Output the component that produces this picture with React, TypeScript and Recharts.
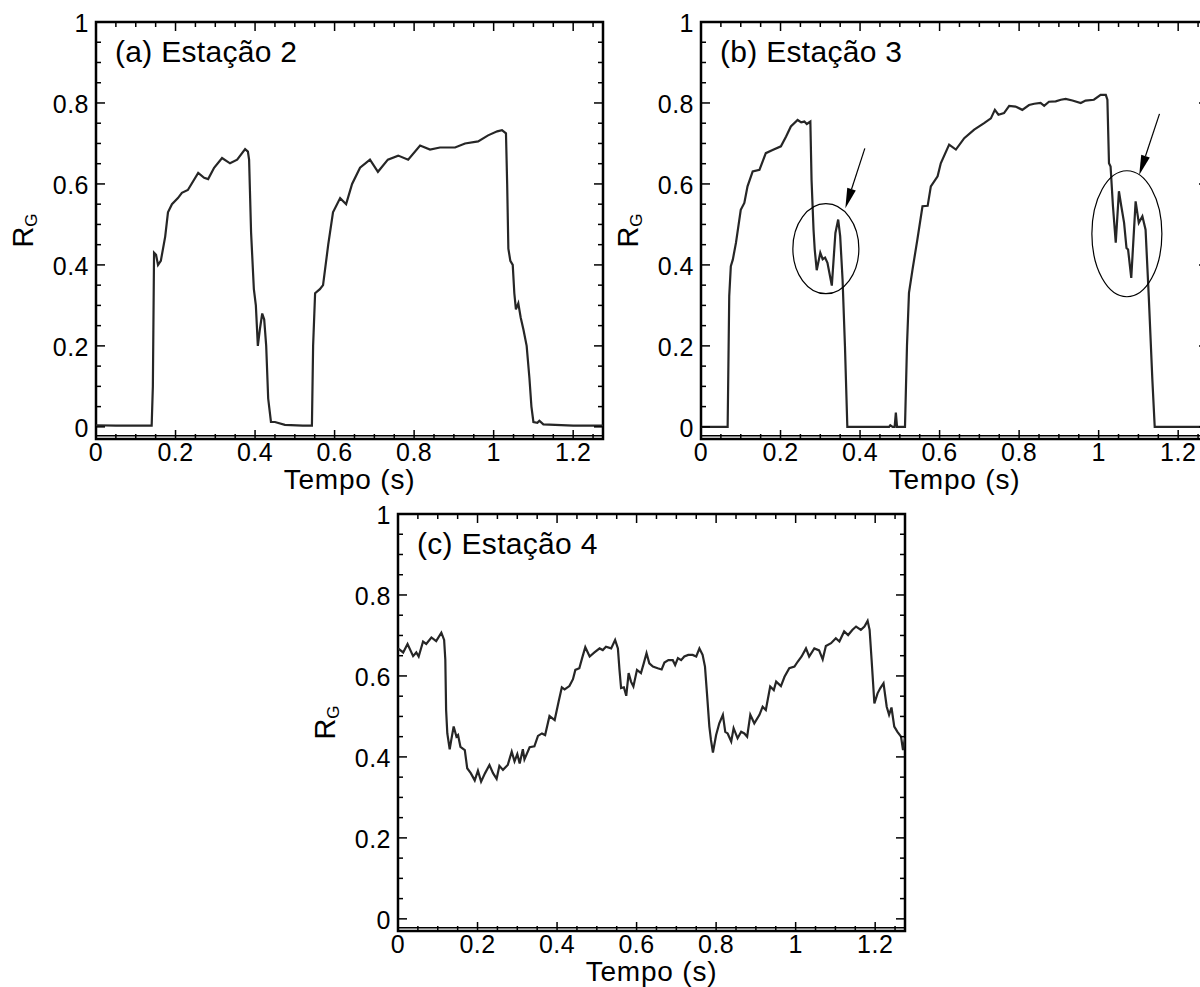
import React from "react";
import {
  LineChart,
  Line,
  XAxis,
  YAxis,
  ReferenceArea,
  ReferenceLine,
  ReferenceDot
} from "recharts";

// Estação 2
const tempoA = [
  0, 0.05, 0.1, 0.14, 0.143, 0.146, 0.151, 0.156, 0.163, 0.174, 0.181, 0.191,
  0.206, 0.216, 0.231, 0.257, 0.272, 0.282, 0.297, 0.317, 0.337, 0.355, 0.375,
  0.382, 0.385, 0.39, 0.397, 0.402, 0.407, 0.412, 0.418, 0.423, 0.428, 0.433,
  0.44, 0.45, 0.475, 0.52, 0.543, 0.546, 0.551, 0.563, 0.571, 0.584, 0.596,
  0.614, 0.629, 0.644, 0.664, 0.689, 0.709, 0.734, 0.76, 0.785, 0.815, 0.84,
  0.865, 0.903, 0.928, 0.961, 0.986, 1.009, 1.021, 1.031, 1.034, 1.037, 1.042,
  1.048, 1.052, 1.056, 1.062, 1.068, 1.075, 1.083, 1.09, 1.095, 1.1, 1.11,
  1.115, 1.125, 1.2, 1.275
];
const rgA = [
  0.004, 0.003, 0.003, 0.003, 0.1, 0.43, 0.425, 0.4, 0.41, 0.47, 0.53, 0.55,
  0.565, 0.578, 0.585, 0.627, 0.615, 0.612, 0.64, 0.664, 0.651, 0.66, 0.686,
  0.68, 0.66, 0.48, 0.34, 0.3, 0.2, 0.24, 0.28, 0.265, 0.2, 0.07,
  0.012, 0.012, 0.005, 0.003, 0.003, 0.2, 0.33, 0.34, 0.35, 0.45, 0.53,
  0.565, 0.55, 0.6, 0.64, 0.66, 0.63, 0.66, 0.67, 0.66, 0.695, 0.685,
  0.69, 0.69, 0.7, 0.705, 0.72, 0.73, 0.733, 0.725, 0.6, 0.44, 0.41,
  0.4, 0.33, 0.29, 0.305, 0.27, 0.24, 0.2, 0.12, 0.05, 0.012, 0.01,
  0.015, 0.006, 0.003, 0.003
];

// Estação 3
const tempoB = [
  0, 0.065, 0.067, 0.071, 0.075, 0.08, 0.088, 0.1, 0.109, 0.117, 0.13, 0.147,
  0.163, 0.18, 0.201, 0.214, 0.226, 0.243, 0.252, 0.26, 0.266, 0.275, 0.278,
  0.283, 0.286, 0.291, 0.3, 0.306, 0.312, 0.318, 0.329, 0.338, 0.345, 0.35,
  0.356, 0.362, 0.368, 0.473, 0.476, 0.482, 0.487, 0.49, 0.493, 0.513, 0.518,
  0.523, 0.532, 0.544, 0.557, 0.57, 0.578, 0.595, 0.603, 0.624, 0.641, 0.662,
  0.687, 0.712, 0.729, 0.739, 0.748, 0.762, 0.775, 0.791, 0.808, 0.825, 0.838,
  0.854, 0.863, 0.875, 0.892, 0.905, 0.917, 0.934, 0.955, 0.967, 0.988, 1.005,
  1.018, 1.022, 1.026, 1.03, 1.036, 1.043, 1.051, 1.057, 1.064, 1.07, 1.074,
  1.082, 1.093, 1.101, 1.11, 1.118, 1.126, 1.135, 1.141, 1.275
];
const rgB = [
  0, 0, 0, 0.323, 0.397, 0.413, 0.455, 0.536, 0.553, 0.594, 0.631, 0.635,
  0.676, 0.684, 0.693, 0.717, 0.742, 0.758, 0.752, 0.754, 0.748, 0.754, 0.61,
  0.487, 0.438, 0.387, 0.43, 0.414, 0.418, 0.405, 0.349, 0.479, 0.512, 0.471,
  0.364, 0.2, 0, 0, 0.004, 0, 0, 0.035, 0, 0, 0.2,
  0.331, 0.389, 0.462, 0.545, 0.546, 0.594, 0.619, 0.651, 0.697, 0.685, 0.713,
  0.734, 0.75, 0.762, 0.783, 0.771, 0.775, 0.793, 0.791, 0.783, 0.795, 0.798,
  0.8, 0.793, 0.803, 0.804, 0.808, 0.81, 0.806, 0.8, 0.806, 0.808, 0.82,
  0.82, 0.808, 0.651, 0.643, 0.545, 0.455, 0.582, 0.545, 0.504, 0.442, 0.438,
  0.368, 0.557, 0.504, 0.52, 0.487, 0.323, 0.118, 0, 0
];

// Estação 4
const tempoC = [
  0, 0.013, 0.024, 0.038, 0.046, 0.052, 0.063, 0.071, 0.084, 0.096, 0.109,
  0.116, 0.119, 0.121, 0.124, 0.13, 0.134, 0.14, 0.147, 0.151, 0.157, 0.168,
  0.174, 0.183, 0.193, 0.201, 0.209, 0.219, 0.23, 0.239, 0.248, 0.255, 0.264,
  0.276, 0.286, 0.293, 0.3, 0.306, 0.314, 0.318, 0.331, 0.343, 0.352, 0.362,
  0.37, 0.381, 0.394, 0.404, 0.412, 0.419, 0.431, 0.44, 0.446, 0.456, 0.463,
  0.471, 0.482, 0.494, 0.507, 0.515, 0.523, 0.536, 0.546, 0.553, 0.557, 0.561,
  0.568, 0.574, 0.58, 0.586, 0.592, 0.601, 0.611, 0.618, 0.625, 0.632, 0.641,
  0.653, 0.663, 0.67, 0.68, 0.691, 0.697, 0.704, 0.712, 0.72, 0.73, 0.741,
  0.75, 0.758, 0.766, 0.772, 0.777, 0.783, 0.787, 0.792, 0.8, 0.808, 0.817,
  0.823, 0.829, 0.838, 0.844, 0.854, 0.863, 0.871, 0.878, 0.886, 0.896, 0.909,
  0.917, 0.925, 0.936, 0.945, 0.951, 0.963, 0.972, 0.984, 0.997, 1.005, 1.015,
  1.026, 1.034, 1.047, 1.059, 1.068, 1.076, 1.089, 1.101, 1.11, 1.122, 1.132,
  1.143, 1.152, 1.164, 1.173, 1.181, 1.186, 1.191, 1.198, 1.206, 1.213, 1.221,
  1.229, 1.235, 1.241, 1.248, 1.256, 1.265, 1.27, 1.275
];
const rgC = [
  0.668, 0.658, 0.679, 0.649, 0.658, 0.648, 0.685, 0.679, 0.695, 0.686, 0.707,
  0.689, 0.64, 0.516, 0.458, 0.419, 0.442, 0.475, 0.45, 0.454, 0.425, 0.417,
  0.372, 0.36, 0.342, 0.366, 0.339, 0.36, 0.38, 0.36, 0.346, 0.378, 0.368,
  0.38, 0.413, 0.389, 0.407, 0.384, 0.419, 0.394, 0.424, 0.426, 0.452, 0.458,
  0.454, 0.501, 0.491, 0.537, 0.572, 0.567, 0.575, 0.592, 0.615, 0.619, 0.644,
  0.671, 0.648, 0.658, 0.668, 0.664, 0.672, 0.668, 0.689, 0.668, 0.615, 0.57,
  0.572, 0.551, 0.607, 0.586, 0.574, 0.615, 0.607, 0.631, 0.656, 0.631, 0.623,
  0.619, 0.616, 0.633, 0.639, 0.639, 0.627, 0.644, 0.639, 0.648, 0.652, 0.652,
  0.648, 0.668, 0.652, 0.623, 0.557, 0.475, 0.442, 0.411, 0.454, 0.483, 0.504,
  0.462, 0.458, 0.438, 0.471, 0.446, 0.462, 0.458, 0.45, 0.504, 0.483, 0.504,
  0.524, 0.516, 0.574, 0.565, 0.586, 0.575, 0.598, 0.619, 0.623, 0.635, 0.648,
  0.668, 0.648, 0.668, 0.663, 0.641, 0.674, 0.681, 0.693, 0.685, 0.71, 0.701,
  0.714, 0.722, 0.714, 0.722, 0.736, 0.714, 0.64, 0.532, 0.557, 0.57, 0.582,
  0.524, 0.504, 0.522, 0.475, 0.462, 0.45, 0.417, 0.446
];

const xTicks = [
  0, 0.05, 0.1, 0.15, 0.2, 0.25, 0.3, 0.35, 0.4, 0.45, 0.5, 0.55, 0.6, 0.65,
  0.7, 0.75, 0.8, 0.85, 0.9, 0.95, 1, 1.05, 1.1, 1.15, 1.2, 1.25
];
const xMajor = [0, 0.2, 0.4, 0.6, 0.8, 1, 1.2];
const yTicks = [
  0, 0.05, 0.1, 0.15, 0.2, 0.25, 0.3, 0.35, 0.4, 0.45, 0.5, 0.55, 0.6, 0.65,
  0.7, 0.75, 0.8, 0.85, 0.9, 0.95, 1
];
const yMajor = [0, 0.2, 0.4, 0.6, 0.8, 1];

const X_MAX = 1.275;
const Y_MIN = -0.03;
const PLOT_W = 507;
const PLOT_H = 417;
const AXIS_W = 96;
const AXIS_H = 70;
const TOP = 22;
const RIGHT = 10;
const FONT = '"Liberation Sans", Arial, Helvetica, sans-serif';

const toRows = (t: number[], v: number[]) => t.map((x, i) => ({ t: x, rg: v[i] }));

const isMajor = (list: number[], v: number) => list.some((m) => Math.abs(m - v) < 1e-6);

function XTick(props: any) {
  const { x, y, payload } = props;
  const major = isMajor(xMajor, payload.value);
  const len = major ? 9 : 5;
  return (
    <g>
      <line x1={x} y1={y} x2={x} y2={y - len} stroke="#000" strokeWidth={1.5} />
      <line x1={x} y1={y - PLOT_H} x2={x} y2={y - PLOT_H + len} stroke="#000" strokeWidth={1.5} />
      {major && (
        <text x={x} y={y + 22} textAnchor="middle" fontSize={25} letterSpacing={0.5} fontFamily={FONT} fill="#000">
          {String(payload.value)}
        </text>
      )}
    </g>
  );
}

function YTick(props: any) {
  const { x, y, payload } = props;
  const major = isMajor(yMajor, payload.value);
  const len = major ? 9 : 5;
  return (
    <g>
      <line x1={x} y1={y} x2={x + len} y2={y} stroke="#000" strokeWidth={1.5} />
      <line x1={x + PLOT_W} y1={y} x2={x + PLOT_W - len} y2={y} stroke="#000" strokeWidth={1.5} />
      {major && (
        <text x={x - 7} y={y + 10} textAnchor="end" fontSize={25} letterSpacing={0.5} fontFamily={FONT} fill="#000">
          {String(payload.value)}
        </text>
      )}
    </g>
  );
}

function XLabel(props: any) {
  const vb = props.viewBox;
  return (
    <text x={vb.x + vb.width / 2} y={vb.y + 50} textAnchor="middle" fontSize={28} letterSpacing={0.8} fontFamily={FONT} fill="#000">
      Tempo (s)
    </text>
  );
}

function YLabel(props: any) {
  const vb = props.viewBox;
  const cx = vb.x + vb.width - 63;
  const cy = vb.y + vb.height / 2;
  return (
    <text x={cx} y={cy} transform={`rotate(-90 ${cx} ${cy})`} textAnchor="middle" fontSize={29} fontFamily={FONT} fill="#000">
      R<tspan fontSize={17} dy={4}>G</tspan>
    </text>
  );
}

function Ellipse(props: any) {
  const { cx, cy, rx, ry } = props;
  return <ellipse cx={cx} cy={cy} rx={rx} ry={ry} fill="none" stroke="#000" strokeWidth={1.2} />;
}

function Arrow(props: any) {
  const { x1, y1, x2, y2 } = props;
  const dx = x2 - x1;
  const dy = y2 - y1;
  const len = Math.sqrt(dx * dx + dy * dy);
  const ux = dx / len;
  const uy = dy / len;
  const bx = x2 - ux * 20;
  const by = y2 - uy * 20;
  const px = -uy * 4.5;
  const py = ux * 4.5;
  return (
    <g>
      <line x1={x1} y1={y1} x2={bx} y2={by} stroke="#000" strokeWidth={1.2} />
      <polygon points={`${x2},${y2} ${bx + px},${by + py} ${bx - px},${by - py}`} fill="#000" />
    </g>
  );
}

function Panel({ rows, title, left, top, children }: any) {
  return (
    <div style={{ position: "absolute", left, top }}>
      <LineChart
        width={AXIS_W + PLOT_W + RIGHT}
        height={TOP + PLOT_H + AXIS_H}
        data={rows}
        margin={{ top: TOP, right: RIGHT, bottom: 0, left: 0 }}
      >
        <XAxis
          type="number"
          dataKey="t"
          domain={[0, X_MAX]}
          ticks={xTicks}
          interval={0}
          tickSize={0}
          tickMargin={0}
          axisLine={false}
          tickLine={false}
          tick={<XTick />}
          height={AXIS_H}
          allowDataOverflow
          label={{ content: XLabel }}
        />
        <YAxis
          type="number"
          domain={[Y_MIN, 1]}
          ticks={yTicks}
          interval={0}
          tickSize={0}
          tickMargin={0}
          axisLine={false}
          tickLine={false}
          tick={<YTick />}
          width={AXIS_W}
          allowDataOverflow
          label={{ content: YLabel }}
        />
        <ReferenceArea
          x1={0}
          x2={X_MAX}
          y1={Y_MIN}
          y2={1}
          fill="none"
          fillOpacity={0}
          stroke="#000"
          strokeWidth={2.5}
          label={{
            content: (p: any) => (
              <text x={p.viewBox.x + 19} y={p.viewBox.y + 40} fontSize={30} letterSpacing={0.3} fontFamily={FONT} fill="#000">
                {title}
              </text>
            )
          }}
        />
        <ReferenceLine y={-0.022} stroke="#000" strokeWidth={1.5} />
        <Line
          type="linear"
          dataKey="rg"
          stroke="#262626"
          strokeWidth={2.2}
          dot={false}
          isAnimationActive={false}
        />
        {children}
      </LineChart>
    </div>
  );
}

export default function App() {
  return (
    <div
      style={{
        position: "absolute",
        left: 0,
        top: 0,
        width: 1200,
        height: 987,
        overflow: "hidden",
        background: "#fff"
      }}
    >
      <Panel rows={toRows(tempoA, rgA)} title="(a) Estação 2" left={0} top={0} />
      <Panel rows={toRows(tempoB, rgB)} title="(b) Estação 3" left={605} top={0}>
        <ReferenceDot x={0.314} y={0.44} r={1} shape={(p: any) => <Ellipse cx={p.cx} cy={p.cy} rx={33} ry={45} />} />
        <ReferenceDot x={1.071} y={0.477} r={1} shape={(p: any) => <Ellipse cx={p.cx} cy={p.cy} rx={35} ry={63} />} />
        <ReferenceLine segment={[{ x: 0.412, y: 0.688 }, { x: 0.363, y: 0.54 }]} shape={Arrow} />
        <ReferenceLine segment={[{ x: 1.153, y: 0.773 }, { x: 1.102, y: 0.622 }]} shape={Arrow} />
      </Panel>
      <Panel rows={toRows(tempoC, rgC)} title="(c) Estação 4" left={302} top={492} />
    </div>
  );
}
